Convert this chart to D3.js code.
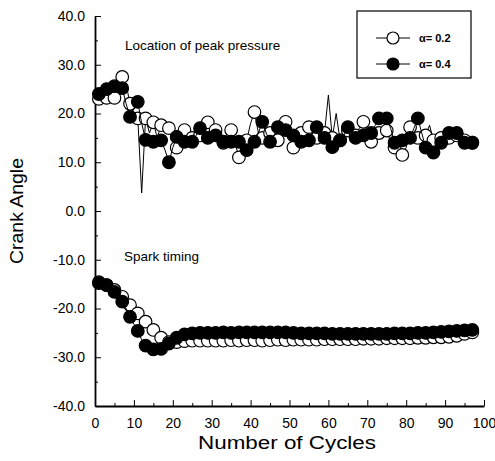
<!DOCTYPE html>
<html>
<head>
<meta charset="utf-8">
<script src="https://cdn.jsdelivr.net/npm/d3@7"></script>
<style>
  html, body { margin: 0; padding: 0; background: #fff; }
  svg { display: block; font-family: "Liberation Sans", Arial, sans-serif; }
</style>
</head>
<body>
<svg id="chart" width="495" height="461"></svg>
<script>
// Cycle numbers 1..98
const cycles = d3.range(1, 99);

// Location of peak pressure (deg crank angle), alpha = 0.2
const peakA02 = [
  23.0, 22.5, 23.2, 24.0, 23.2, 25.0, 27.5, 26.0, 22.0, 20.0,
  19.0, 3.7, 19.0, 16.0, 18.2, 15.0, 17.6, 16.0, 17.0, 15.0,
  13.0, 15.0, 16.6, 15.5, 15.0, 14.0, 15.5, 17.0, 18.2, 16.0,
  16.6, 15.0, 14.0, 16.0, 16.6, 14.0, 11.0, 15.5, 14.5, 18.0,
  20.3, 16.0, 15.0, 14.0, 16.0, 15.0, 14.5, 16.5, 18.3, 15.0,
  13.0, 15.0, 16.0, 17.0, 17.2, 15.5, 15.0, 14.0, 16.0, 23.8,
  15.0, 20.0, 14.5, 16.0, 16.5, 14.5, 15.5, 17.0, 18.3, 15.0,
  14.2, 15.5, 16.0, 15.0, 16.5, 14.0, 13.0, 12.5, 11.5, 13.0,
  17.2, 16.0, 15.0, 14.0, 15.5, 17.6, 14.5, 16.0, 15.0, 14.5,
  15.0, 14.5, 15.5, 14.0, 14.5, 14.0, 14.0, 14.0
];

// Location of peak pressure, alpha = 0.4
const peakA04 = [
  24.0, 24.3, 25.0, 25.4, 25.6, 25.5, 25.2, 22.0, 19.3, 21.0,
  22.4, 18.0, 14.6, 14.0, 14.2, 15.0, 14.5, 12.5, 10.0, 13.0,
  15.2, 14.8, 14.2, 14.0, 14.2, 15.5, 17.0, 16.0, 15.0, 15.6,
  15.5, 14.8, 14.2, 15.0, 14.2, 14.5, 14.2, 13.5, 12.5, 13.5,
  14.2, 16.0, 18.3, 16.0, 14.2, 15.5, 17.2, 17.0, 16.6, 16.0,
  15.5, 14.8, 14.2, 14.2, 14.5, 16.0, 17.2, 16.5, 15.0, 14.0,
  13.1, 14.0, 14.5, 15.5, 17.2, 16.5, 15.0, 15.5, 15.5, 16.5,
  16.0, 17.5, 19.0, 19.2, 19.0, 17.0, 14.0, 14.5, 14.5, 15.0,
  15.0, 17.0, 19.0, 16.0, 13.0, 12.5, 12.0, 14.0, 14.0, 15.5,
  16.0, 16.0, 16.0, 15.0, 14.0, 14.0, 14.0, 14.0
];

// Spark timing (deg crank angle), alpha = 0.2
const sparkA02 = [
  -14.6, -14.5, -15.2, -15.6, -16.2, -16.9, -17.6, -18.5, -19.3, -20.2,
  -21.0, -21.9, -22.7, -23.6, -24.4, -25.2, -26.0, -26.6, -26.9, -27.0,
  -26.9, -26.8, -26.7, -26.6, -26.6, -26.6, -26.6, -26.5, -26.6, -26.6,
  -26.6, -26.5, -26.6, -26.6, -26.5, -26.6, -26.6, -26.5, -26.5, -26.6,
  -26.5, -26.5, -26.6, -26.5, -26.5, -26.5, -26.4, -26.5, -26.5, -26.4,
  -26.4, -26.4, -26.4, -26.4, -26.4, -26.3, -26.4, -26.4, -26.3, -26.3,
  -26.3, -26.3, -26.3, -26.3, -26.3, -26.2, -26.3, -26.2, -26.2, -26.2,
  -26.2, -26.2, -26.2, -26.2, -26.1, -26.2, -26.1, -26.1, -26.1, -26.1,
  -26.1, -26.0, -26.0, -26.0, -26.0, -26.0, -25.9, -25.9, -25.9, -25.9,
  -25.8, -25.7, -25.6, -25.4, -25.2, -25.0, -24.9, -24.8
];

// Spark timing, alpha = 0.4
const sparkA04 = [
  -14.8, -14.9, -15.2, -15.8, -16.6, -17.5, -18.6, -20.0, -21.7, -23.2,
  -24.6, -26.4, -27.6, -28.1, -28.4, -28.4, -28.3, -27.9, -27.2, -26.5,
  -26.0, -25.6, -25.3, -25.2, -25.1, -25.1, -25.0, -25.0, -25.0, -25.0,
  -25.0, -25.0, -24.9, -25.0, -25.0, -24.9, -24.9, -25.0, -24.9, -24.9,
  -24.9, -24.9, -24.9, -24.9, -24.9, -24.9, -24.9, -24.9, -24.9, -25.0,
  -25.0, -25.0, -25.1, -25.1, -25.1, -25.1, -25.1, -25.2, -25.1, -25.2,
  -25.2, -25.2, -25.2, -25.2, -25.2, -25.2, -25.2, -25.2, -25.2, -25.2,
  -25.2, -25.2, -25.2, -25.1, -25.2, -25.1, -25.1, -25.1, -25.1, -25.1,
  -25.1, -25.0, -25.0, -25.0, -25.0, -24.9, -24.9, -24.9, -24.8, -24.8,
  -24.7, -24.7, -24.6, -24.6, -24.5, -24.4, -24.4, -24.4
];

const xTicks = d3.range(0, 101, 10);
const yTicks = d3.range(-40, 41, 10);
const legendLabels = ["\u03b1= 0.2", "\u03b1= 0.4"];
const yTitle = "Crank Angle";
const xTitle = "Number of Cycles";
const notes = ["Location of peak pressure", "Spark timing"];

const svg = d3.select("#chart");
const plotLeft = 95, plotRight = 484, plotTop = 16, plotBottom = 406;

const x = d3.scaleLinear().domain([0, 100]).range([plotLeft, plotRight]);
const y = d3.scaleLinear().domain([-40, 40]).range([plotBottom, plotTop]);

// Axes with inward ticks
const fmt = v => v.toFixed(1);

svg.append("g")
  .attr("transform", `translate(${plotLeft},0)`)
  .call(d3.axisLeft(y).tickValues(d3.range(-35, 40, 10)).tickSize(-3).tickFormat(""))
  .call(g => g.select(".domain").remove());

svg.append("g")
  .attr("transform", `translate(0,${plotBottom})`)
  .call(d3.axisBottom(x).tickValues(d3.range(5, 100, 10)).tickSize(-3).tickFormat(""))
  .call(g => g.select(".domain").remove());

const yAxis = svg.append("g")
  .attr("transform", `translate(${plotLeft},0)`)
  .call(d3.axisLeft(y).tickValues(yTicks).tickSize(-6).tickSizeOuter(0)
    .tickPadding(10).tickFormat(fmt));

const xAxis = svg.append("g")
  .attr("transform", `translate(0,${plotBottom})`)
  .call(d3.axisBottom(x).tickValues(xTicks).tickSize(-6).tickSizeOuter(0)
    .tickPadding(12).tickFormat(d3.format("d")));

[yAxis, xAxis].forEach(g => {
  g.selectAll("text").attr("font-size", 14).attr("fill", "#000")
    .attr("font-family", "'Liberation Sans', Arial, sans-serif");
  g.select(".domain").attr("stroke-width", 1.8);
});
svg.selectAll(".tick line").attr("stroke", "#000").attr("stroke-width", 1);

// Axis titles
svg.append("text")
  .attr("transform", `translate(23,211) rotate(-90)`)
  .attr("text-anchor", "middle")
  .attr("font-size", 18)
  .attr("textLength", 106)
  .attr("lengthAdjust", "spacingAndGlyphs")
  .text(yTitle);

svg.append("text")
  .attr("x", 287).attr("y", 449)
  .attr("text-anchor", "middle")
  .attr("font-size", 18)
  .attr("textLength", 178)
  .attr("lengthAdjust", "spacingAndGlyphs")
  .text(xTitle);

// In-plot annotations
svg.append("text").attr("x", 125).attr("y", 50).attr("font-size", 13.5).text(notes[0]);
svg.append("text").attr("x", 124).attr("y", 261).attr("font-size", 13.5).text(notes[1]);

// Series
const line = d3.line().x(d => x(d[0])).y(d => y(d[1]));
const R = 6.3;

function drawSeries(values, filled) {
  const pts = cycles.map((c, i) => [c, values[i]]);
  svg.append("path")
    .attr("d", line(pts))
    .attr("fill", "none")
    .attr("stroke", "#000")
    .attr("stroke-width", 1);
  svg.append("g").selectAll("circle")
    .data(pts.filter((d, i) => i % 2 === 0))
    .join("circle")
    .attr("cx", d => x(d[0]))
    .attr("cy", d => y(d[1]))
    .attr("r", R)
    .attr("fill", filled ? "#000" : "#fff")
    .attr("stroke", "#000")
    .attr("stroke-width", 1.2);
}

drawSeries(peakA02, false);
drawSeries(sparkA02, false);
drawSeries(peakA04, true);
drawSeries(sparkA04, true);

// Legend
const lg = svg.append("g");
lg.append("rect")
  .attr("x", 357).attr("y", 11).attr("width", 114).attr("height", 67)
  .attr("fill", "#fff").attr("stroke", "#000").attr("stroke-width", 1.2);

[[38, false], [64, true]].forEach(([ly, filled], i) => {
  lg.append("line")
    .attr("x1", 376).attr("x2", 410).attr("y1", ly).attr("y2", ly)
    .attr("stroke", "#000").attr("stroke-width", 1);
  lg.append("circle")
    .attr("cx", 393).attr("cy", ly).attr("r", 6)
    .attr("fill", filled ? "#000" : "#fff")
    .attr("stroke", "#000").attr("stroke-width", 1.2);
  lg.append("text")
    .attr("x", 419).attr("y", ly + 4)
    .attr("font-size", 11).attr("font-weight", "bold")
    .text(legendLabels[i]);
});
</script>
</body>
</html>
